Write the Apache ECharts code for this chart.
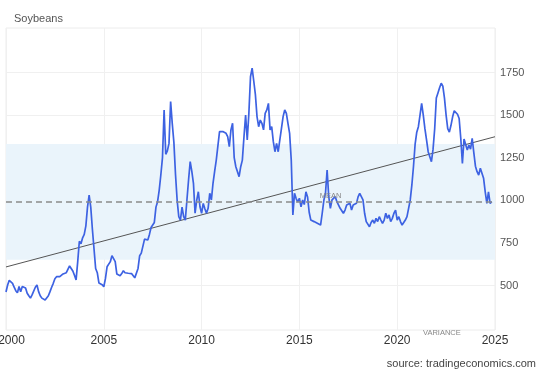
<!DOCTYPE html>
<html><head><meta charset="utf-8">
<script src="https://cdn.jsdelivr.net/npm/echarts@6/dist/echarts.min.js"></script>
<style>html,body{margin:0;padding:0;background:#fff}#c{width:540px;height:374px}</style>
</head><body><div id="c"></div>
<script>
const startYear = 2000;
// monthly soybean prices (USd/bu), Jan 2000 onward
const prices = [
 462,503,530,525,513,490,470,457,494,464,494,488,
 485,455,440,426,445,455,490,503,464,440,426,418,
 415,425,440,464,490,513,540,552,562,552,560,568,
 562,575,582,615,611,585,560,533,640,760,745,780,
 800,850,960,1030,960,830,840,600,575,515,511,505,
 493,540,610,620,640,675,665,640,567,560,557,570,
 587,575,567,572,577,570,573,545,538,600,675,690,
 694,772,765,767,800,840,845,870,960,992,1060,1150,
 1250,1530,1270,1290,1334,1580,1450,1340,1150,1000,904,884,
 960,904,884,1002,1119,1227,1170,1100,924,1000,1050,962,
 924,982,950,924,953,1041,1002,1100,1170,1236,1246,1403,
 1413,1403,1413,1393,1373,1315,1413,1452,1250,1197,1207,1139,
 1197,1236,1373,1500,1354,1510,1725,1775,1700,1620,1491,1432,
 1471,1452,1413,1510,1530,1569,1413,1432,1344,1285,1334,1285,
 1354,1422,1491,1530,1510,1450,1393,1236,914,1041,1010,990,
 1012,962,1002,975,1050,1020,930,884,880,875,869,865,
 860,855,924,1000,1041,1178,1021,953,1002,1012,1021,992,
 1002,953,962,924,943,972,962,982,943,972,975,982,
 1020,1041,1031,1002,924,875,884,845,870,884,865,894,
 875,904,884,865,884,924,894,914,875,894,924,943,
 884,904,875,855,845,884,904,953,1002,1090,1200,1330,
 1400,1432,1500,1569,1500,1420,1354,1285,1256,1227,1300,1420,
 1600,1630,1660,1687,1670,1600,1500,1420,1400,1440,1490,1525,
 1534,1505,1480,1364,1217,1360,1365,1295,1324,1300,1364,1280,
 1200,1168,1148,1188,1197,1129,1050,982,1050,982,992
];
const yTicks = [500, 750, 1000, 1250, 1500, 1750];
const xTicks = [2000, 2005, 2010, 2015, 2020, 2025];
const meanValue = 991;
const varianceBand = [651, 1331];
const trendYears = [2000, 2025];
const trendValues = [609, 1373];
const meanLabelYear = 2016.6;

const priceData = prices.map((v, i) => [startYear + i / 12, v]);
const trendData = trendYears.map((y, i) => [y, trendValues[i]]);
const FONT = 'Liberation Sans, Arial, sans-serif';

const chart = echarts.init(document.getElementById('c'), null, {renderer: 'canvas'});
chart.setOption({
  animation: false,
  backgroundColor: '#fff',
  title: {
    text: 'Soybeans', left: 9, top: 8,
    textStyle: {fontSize: 11, fontWeight: 'normal', color: '#555', fontFamily: FONT}
  },
  grid: {left: 6, right: 45, top: 28, bottom: 44, show: true, borderColor: '#ececec', borderWidth: 1,
         containLabel: false, outerBoundsMode: 'none'},
  xAxis: {
    type: 'value', min: xTicks[0], max: xTicks[xTicks.length - 1], interval: 5,
    axisLine: {show: false}, axisTick: {show: false},
    splitLine: {show: true, lineStyle: {color: '#f0f0f0', width: 1}},
    axisLabel: {
      color: '#333', fontSize: 12, fontFamily: FONT, margin: 5,
      formatter: v => v === xTicks[0] ? '{first|' + v + '}' : String(v),
      rich: {first: {padding: [0, 0, 0, 11], fontSize: 12, color: '#333', fontFamily: FONT}}
    }
  },
  yAxis: {
    type: 'value', position: 'right', min: 239, max: 2011,
    axisLine: {show: false},
    axisTick: {show: false, customValues: yTicks},
    axisLabel: {customValues: yTicks, color: '#555', fontSize: 11, fontFamily: FONT, margin: 5,
                formatter: v => String(v)},
    splitLine: {show: true, lineStyle: {color: '#f0f0f0', width: 1}}
  },
  series: [
    {
      type: 'line', data: priceData, symbol: 'none', z: 3,
      lineStyle: {color: '#3d62e2', width: 1.7},
      itemStyle: {color: '#3d62e2'},
      markArea: {
        silent: true,
        itemStyle: {color: '#eaf4fb'},
        data: [[{yAxis: varianceBand[0]}, {yAxis: varianceBand[1]}]]
      },
      markLine: {
        silent: true, symbol: 'none',
        lineStyle: {color: '#8a8a8a', type: [6, 4], width: 1.5},
        label: {show: false},
        data: [{yAxis: meanValue}]
      },
      markPoint: {
        silent: true, symbol: 'circle', symbolSize: 0,
        label: {show: true, formatter: 'MEAN', position: 'top', distance: 2,
                fontSize: 7.5, color: '#888', fontFamily: FONT},
        data: [{coord: [meanLabelYear, meanValue]}]
      }
    },
    {
      type: 'line', data: trendData, symbol: 'none', z: 2,
      lineStyle: {color: '#555', width: 1}
    }
  ],
  graphic: [
    {type: 'text', left: 423, top: 329,
     style: {text: 'VARIANCE', font: '7.5px ' + FONT, fill: '#888'}},
    {type: 'text', right: 4, top: 358,
     style: {text: 'source: tradingeconomics.com', font: '11px ' + FONT, fill: '#444'}}
  ]
});
</script>
</body></html>
